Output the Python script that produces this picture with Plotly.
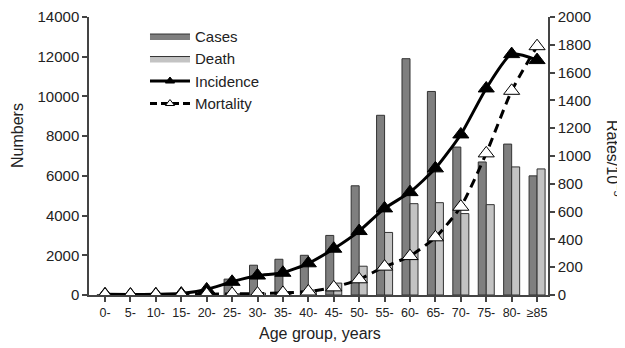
import plotly.graph_objects as go

age_groups = ["0-", "5-", "10-", "15-", "20-", "25-", "30-", "35-", "40-", "45-",
              "50-", "55-", "60-", "65-", "70-", "75-", "80-", "≥85"]
cases = [10, 10, 20, 50, 200, 800, 1500, 1800, 2000, 3000,
         5500, 9050, 11900, 10250, 7450, 6700, 7600, 6000]
deaths = [5, 5, 10, 15, 30, 60, 100, 150, 250, 600,
          1450, 3150, 4600, 4650, 4100, 4550, 6450, 6350]
incidence = [5, 3, 5, 10, 40, 95, 140, 160, 228, 333,
             460, 623, 740, 911, 1155, 1486, 1733, 1690]
mortality = [2, 1, 2, 3, 5, 8, 10, 15, 25, 55,
             113, 204, 280, 415, 635, 1019, 1469, 1790]

FONT = "Liberation Sans, Arial, Helvetica, sans-serif"
TXT = "#222222"
AX = "#444444"
CASE_C = "#7f7f7f"
DEATH_C = "#c3c3c3"
EDGE = "#333333"
DASH = "9px,6px"

fig = go.Figure()

fig.add_trace(go.Bar(x=age_groups, y=cases, name="Cases", yaxis="y", showlegend=False,
                     marker=dict(color=CASE_C, line=dict(color=EDGE, width=1))))
fig.add_trace(go.Bar(x=age_groups, y=deaths, name="Death", yaxis="y", showlegend=False,
                     marker=dict(color=DEATH_C, line=dict(color=EDGE, width=1))))
fig.add_trace(go.Scatter(x=age_groups, y=incidence, name="Incidence", mode="lines+markers",
                         yaxis="y2", showlegend=False,
                         line=dict(color="black", width=3, shape="spline", smoothing=0.6),
                         marker=dict(symbol="triangle-up", size=14, color="black",
                                     line=dict(color="black", width=1))))
fig.add_trace(go.Scatter(x=age_groups, y=mortality, name="Mortality", mode="lines+markers",
                         yaxis="y2", showlegend=False,
                         line=dict(color="black", width=3, dash=DASH, shape="spline", smoothing=0.6),
                         marker=dict(symbol="triangle-up", size=14, color="white",
                                     line=dict(color="black", width=1))))

# legend-only entries styled like the reference legend
fig.add_trace(go.Scatter(x=[None], y=[None], name="Cases", mode="lines", fill="toself",
                         fillcolor=CASE_C, line=dict(color=EDGE, width=1)))
fig.add_trace(go.Scatter(x=[None], y=[None], name="Death", mode="lines", fill="toself",
                         fillcolor=DEATH_C, line=dict(color=EDGE, width=1)))
fig.add_trace(go.Scatter(x=[None], y=[None], name="Incidence", mode="lines+markers",
                         line=dict(color="black", width=3),
                         marker=dict(symbol="triangle-up", size=8, color="black",
                                     line=dict(color="black", width=1))))
fig.add_trace(go.Scatter(x=[None], y=[None], name="Mortality", mode="lines+markers",
                         line=dict(color="black", width=3, dash="7px,4px"),
                         marker=dict(symbol="triangle-up", size=8, color="white",
                                     line=dict(color="black", width=1))))

axis_common = dict(showline=True, linecolor=AX, linewidth=1.5,
                   ticks="outside", ticklen=5, tickcolor=AX, tickwidth=1.5,
                   showgrid=False, zeroline=False, automargin=False)

# the page body has an 8px margin, so the figure is 8px smaller and offset
fig.update_layout(
    width=617, height=340,
    margin=dict(l=81, r=77, t=9, b=53, autoexpand=False),
    paper_bgcolor="white", plot_bgcolor="white",
    barmode="group", bargap=0.37, bargroupgap=0,
    font=dict(family=FONT, size=15, color=TXT),
    showlegend=True,
    legend=dict(x=0.122, y=0.99, xanchor="left", yanchor="top",
                bgcolor="rgba(0,0,0,0)", font=dict(size=15, color=TXT),
                tracegroupgap=0, itemwidth=40),
    xaxis=dict(type="category", categoryorder="array", categoryarray=age_groups,
               range=[-0.63, 17.43], domain=[0, 1],
               tickfont=dict(size=12.5, color=TXT), **axis_common),
    yaxis=dict(range=[0, 14000], dtick=2000, tickformat="d",
               tickfont=dict(size=15, color=TXT), **axis_common),
    yaxis2=dict(range=[0, 2000], dtick=200, tickformat="d", overlaying="y", side="right",
                anchor="x", tickfont=dict(size=15, color=TXT), **axis_common),
)

fig.add_annotation(text="Numbers", xref="paper", yref="paper",
                   x=(17 - 89) / 459, y=(295 - 136) / 278, xanchor="center", yanchor="middle",
                   textangle=-90, showarrow=False, font=dict(size=16, color=TXT))
fig.add_annotation(text="Rates/10<sup>−5</sup>", xref="paper", yref="paper",
                   x=(614 - 89) / 459, y=(295 - 158) / 278, xanchor="center", yanchor="middle",
                   textangle=90, showarrow=False, font=dict(size=16, color=TXT))
fig.add_annotation(text="Age group, years", xref="paper", yref="paper",
                   x=(320 - 89) / 459, y=-(333 - 295) / 278, xanchor="center", yanchor="middle",
                   showarrow=False, font=dict(size=16, color=TXT))

fig.write_html("out.html")
